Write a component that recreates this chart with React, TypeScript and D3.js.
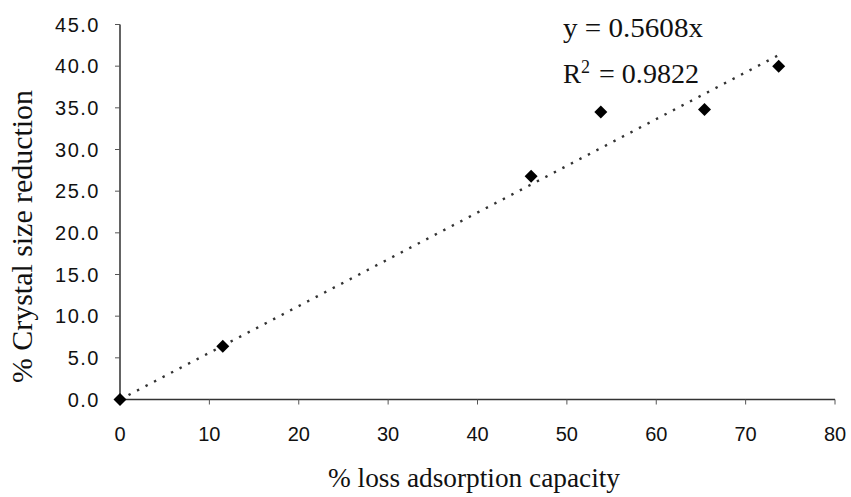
import React from "react";
import * as d3 from "d3";

const xValues = [0, 11.5, 46.0, 53.8, 65.4, 73.7];
const yValues = [0, 6.4, 26.8, 34.5, 34.8, 40.0];
const xTicks = [0, 10, 20, 30, 40, 50, 60, 70, 80];
const yTicks = [0, 5, 10, 15, 20, 25, 30, 35, 40, 45];
const slope = 0.5608;
const eqText = "y = 0.5608x";
const r2Text = "= 0.9822";
const xTitle = "% loss adsorption capacity";
const yTitle = "% Crystal size reduction";

export default function App() {
  const W = 851, H = 497;
  const x = d3.scaleLinear().domain([0, 80]).range([120, 835]);
  const y = d3.scaleLinear().domain([0, 45]).range([399.5, 24.5]);
  const xMax = d3.max(xValues) as number;
  const trend = d3.line<number>().x((d) => x(d)).y((d) => y(slope * d))([0, xMax]) as string;
  const diamond = (cx: number, cy: number, r = 6.5) =>
    `M${cx},${cy - r}L${cx + r},${cy}L${cx},${cy + r}L${cx - r},${cy}Z`;
  const sans = "'Liberation Sans', Arial, sans-serif";
  const serif = "'Liberation Serif', 'Times New Roman', serif";
  return (
    <svg width={W} height={H} style={{ position: "absolute", left: 0, top: 0, background: "#fff" }}>
      {/* axes */}
      <line x1={x(0)} x2={x(0)} y1={y(45)} y2={y(0)} stroke="#222" strokeWidth={1.4} />
      <line x1={x(0)} x2={x(80)} y1={y(0)} y2={y(0)} stroke="#333" strokeWidth={1.4} />
      {yTicks.map((t) => (
        <g key={"y" + t}>
          <line x1={x(0) - 5} x2={x(0)} y1={y(t)} y2={y(t)} stroke="#555" strokeWidth={1} />
          <text x={100} y={y(t)} dy="0.36em" textAnchor="end" fontFamily={sans} fontSize={20} letterSpacing={1.5} fill="#111">
            {t.toFixed(1)}
          </text>
        </g>
      ))}
      {xTicks.map((t) => (
        <g key={"x" + t}>
          <line x1={x(t)} x2={x(t)} y1={y(0)} y2={y(0) + 5} stroke="#555" strokeWidth={1} />
          <text x={x(t)} y={441} textAnchor="middle" fontFamily={sans} fontSize={20} fill="#111">
            {t}
          </text>
        </g>
      ))}
      {/* trendline */}
      <path d={trend} fill="none" stroke="#333" strokeWidth={2.4} strokeDasharray="2.4 7.2" />
      {/* points */}
      {xValues.map((v, i) => (
        <path key={"p" + i} d={diamond(x(v), y(yValues[i]))} fill="#000" />
      ))}
      {/* equation */}
      <text x={563} y={37} fontFamily={serif} fontSize={27} textLength={140} lengthAdjust="spacingAndGlyphs" fill="#111">
        {eqText}
      </text>
      <text x={563} y={83} fontFamily={serif} fontSize={27} fill="#111">R</text>
      <text x={581} y={73} fontFamily={serif} fontSize={18} fill="#111">2</text>
      <text x={599} y={83} fontFamily={serif} fontSize={27} textLength={100} lengthAdjust="spacingAndGlyphs" fill="#111">
        {r2Text}
      </text>
      {/* titles */}
      <text x={328} y={487} fontFamily={serif} fontSize={27} textLength={292} lengthAdjust="spacingAndGlyphs" fill="#111">
        {xTitle}
      </text>
      <text
        transform={`translate(32,383) rotate(-90)`}
        fontFamily={serif}
        fontSize={29}
        textLength={293}
        lengthAdjust="spacingAndGlyphs"
        fill="#111"
      >
        {yTitle}
      </text>
    </svg>
  );
}
